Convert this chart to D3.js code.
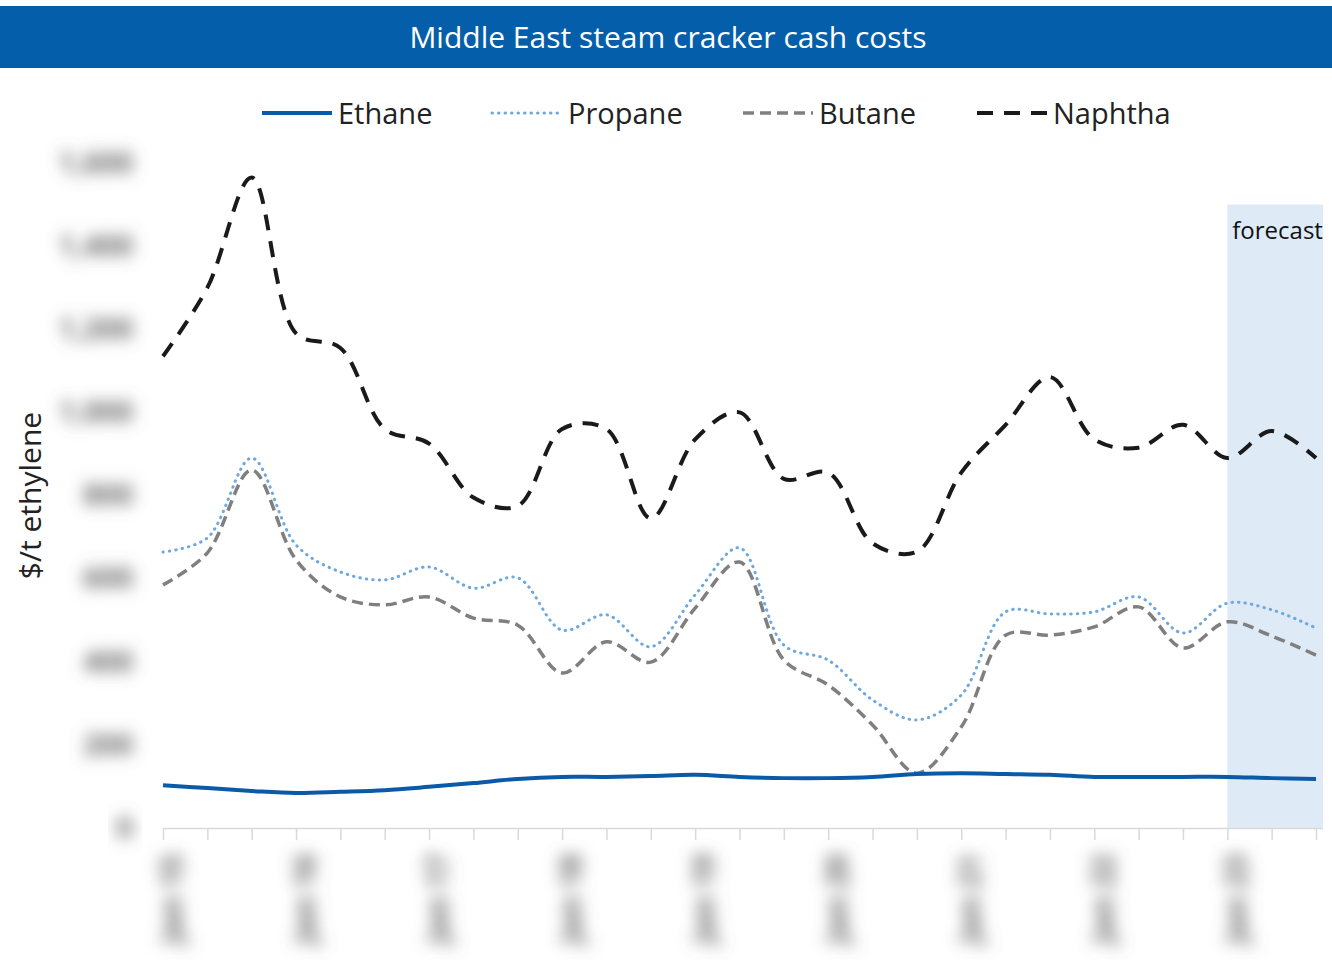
<!DOCTYPE html>
<html>
<head>
<meta charset="utf-8">
<script src="https://cdn.jsdelivr.net/npm/d3@7"></script>
<style>
  body { margin: 0; background: #fff; }
  svg { display: block; font-family: "Open Sans", "Noto Sans", sans-serif; }
</style>
</head>
<body>
<svg id="chart" width="1332" height="960"></svg>
<script>
// periods, one every four months; only the January ones get a label
var periods = [
  "Jan 15", "May 15", "Sep 15", "Jan 16", "May 16", "Sep 16", "Jan 17", "May 17", "Sep 17",
  "Jan 18", "May 18", "Sep 18", "Jan 19", "May 19", "Sep 19", "Jan 20", "May 20", "Sep 20",
  "Jan 21", "May 21", "Sep 21", "Jan 22", "May 22", "Sep 22", "Jan 23", "May 23", "Sep 23"
];

// $/t ethylene
var ethane  = [103, 96, 89, 84, 87, 91, 99, 108, 118, 123, 123, 125, 128, 123, 120, 120, 123, 130, 132, 130, 128, 123, 123, 123, 123, 120, 118];
var propane = [664, 698, 890, 681, 616, 597, 628, 577, 602, 476, 513, 436, 561, 674, 440, 404, 308, 260, 320, 520, 515, 520, 556, 469, 541, 525, 481];
var butane  = [585, 662, 861, 645, 556, 537, 556, 505, 488, 373, 448, 399, 529, 640, 404, 344, 248, 132, 243, 464, 464, 484, 532, 433, 496, 462, 416];
var naphtha = [1135, 1300, 1565, 1190, 1155, 960, 925, 795, 775, 960, 960, 745, 935, 1000, 840, 855, 685, 665, 855, 970, 1085, 935, 915, 970, 890, 955, 890];

var yTicks = [0, 200, 400, 600, 800, 1000, 1200, 1400, 1600];
var forecastFrom = "Jan 23";
var forecastTop = 1500;

var svg = d3.select("#chart");

var plotL = 163, plotR = 1316, plotEdge = 1323, plotT = 163, plotB = 828;

var x = d3.scalePoint().domain(periods).range([plotL, plotR]);
var y = d3.scaleLinear().domain([0, 1600]).range([plotB, plotT]);

// blur for the hidden axis labels
var defs = svg.append("defs");
defs.append("filter").attr("id", "blur")
    .attr("x", "-50%").attr("y", "-50%").attr("width", "200%").attr("height", "200%")
  .append("feGaussianBlur").attr("stdDeviation", 8);

// title bar
svg.append("rect").attr("x", 0).attr("y", 6).attr("width", 1332).attr("height", 62).attr("fill", "#055ea9");
svg.append("text").attr("x", 668).attr("y", 48).attr("text-anchor", "middle")
    .attr("fill", "#fff").style("font-size", "30px").text("Middle East steam cracker cash costs");

// forecast band
svg.append("rect")
    .attr("x", x(forecastFrom)).attr("y", y(forecastTop))
    .attr("width", plotEdge - x(forecastFrom)).attr("height", plotB - y(forecastTop))
    .attr("fill", "#deebf7");
svg.append("text").attr("x", x(forecastFrom) + 5).attr("y", y(forecastTop) + 34)
    .attr("fill", "#111").style("font-size", "24px").text("forecast");

// x axis
var xAxis = svg.append("g").attr("transform", "translate(0," + plotB + ")")
    .call(d3.axisBottom(x).tickSize(12).tickFormat(function(d){ return d.indexOf("Jan") === 0 ? d : ""; }));
xAxis.select(".domain").attr("d", "M" + plotL + ",0.5H" + plotEdge).attr("stroke", "#d9d9d9").attr("stroke-width", 1.5);
xAxis.selectAll(".tick line").attr("stroke", "#d9d9d9").attr("stroke-width", 1.5);
xAxis.selectAll(".tick text")
    .attr("transform", "translate(8,26) rotate(-90)")
    .attr("x", 0).attr("y", 0).attr("dy", "0.35em")
    .attr("text-anchor", "end")
    .attr("fill", "#666").style("font-size", "30px").style("font-weight", "bold")
    .style("font-family", "'Open Sans', sans-serif")
    .attr("filter", "url(#blur)");

// y axis
var yAxis = svg.append("g").attr("transform", "translate(" + plotL + ",0)")
    .call(d3.axisLeft(y).tickValues(yTicks).tickSize(0).tickPadding(30).tickFormat(d3.format(",")));
yAxis.select(".domain").remove();
yAxis.selectAll(".tick text")
    .attr("fill", "#666").style("font-size", "29px").style("font-weight", "bold")
    .style("font-family", "'Open Sans', sans-serif")
    .attr("filter", "url(#blur)");

svg.append("text")
    .attr("transform", "translate(41," + (plotT + plotB) / 2 + ") rotate(-90)")
    .attr("text-anchor", "middle").attr("fill", "#222").style("font-size", "30px")
    .text("$/t ethylene");

// series
var series = [
  { name: "Ethane",  values: ethane,  color: "#0b5aa7", width: 4,   dash: null,    cap: "butt" },
  { name: "Propane", values: propane, color: "#6fa8dc", width: 3,   dash: "0.5 6", cap: "round" },
  { name: "Butane",  values: butane,  color: "#7f7f7f", width: 3.5, dash: "11 6",  cap: "butt" },
  { name: "Naphtha", values: naphtha, color: "#1a1a1a", width: 4,   dash: "16 11", cap: "butt" }
];

var line = d3.line()
    .x(function(d, i){ return x(periods[i]); })
    .y(function(d){ return y(d); })
    .curve(d3.curveCatmullRom.alpha(0.5));

svg.append("g").selectAll("path").data(series.slice().reverse()).join("path")
    .attr("d", function(s){ return line(s.values); })
    .attr("fill", "none")
    .attr("stroke", function(s){ return s.color; })
    .attr("stroke-width", function(s){ return s.width; })
    .attr("stroke-dasharray", function(s){ return s.dash; })
    .attr("stroke-linecap", function(s){ return s.cap; });

// legend
var legendX = [262, 492, 743, 977];
var legend = svg.append("g").selectAll("g").data(series).join("g")
    .attr("transform", function(s, i){ return "translate(" + legendX[i] + ",113)"; });
legend.append("line")
    .attr("x1", 0).attr("x2", 70).attr("y1", 0).attr("y2", 0)
    .attr("stroke", function(s){ return s.color; })
    .attr("stroke-width", function(s){ return s.width; })
    .attr("stroke-dasharray", function(s){ return s.dash; })
    .attr("stroke-linecap", function(s){ return s.cap; });
legend.append("text")
    .attr("x", 76).attr("y", 11).attr("fill", "#222").style("font-size", "29px")
    .text(function(s){ return s.name; });
</script>
</body>
</html>
